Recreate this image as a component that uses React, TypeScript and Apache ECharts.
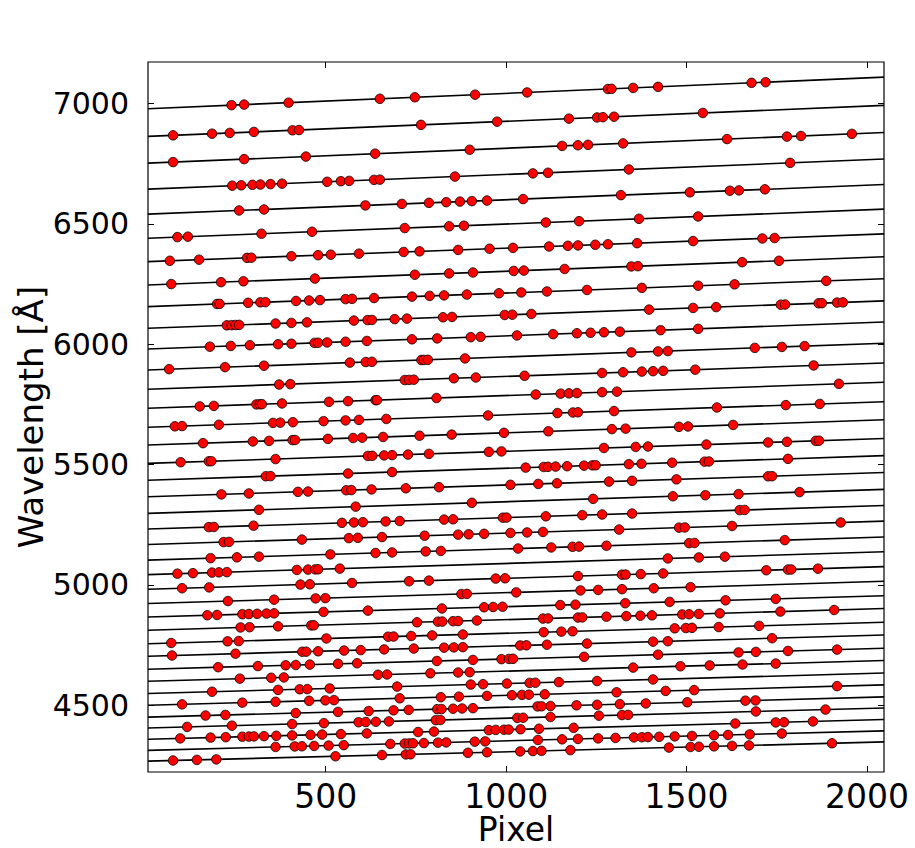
import React, { useEffect, useRef } from 'react';
import * as echarts from 'echarts';

// Axis extents (pixel index, wavelength in Angstrom)
const pixelRange = [7.5, 2047];
const wavelengthRange = [4223, 7172];
const xTicks = [500, 1000, 1500, 2000];
const yTicks = [4500, 5000, 5500, 6000, 6500, 7000];

// Wavelength solution of each order at the first and last pixel
const orderStart = [6978, 6863, 6752, 6644, 6540, 6440, 6343, 6246, 6156, 6066, 5980, 5893, 5813, 5734, 5655, 5581, 5505, 5435, 5366, 5297, 5232, 5168, 5103, 5043, 4982, 4923, 4867, 4812, 4756, 4704, 4650, 4600, 4549, 4500, 4451, 4406, 4359, 4313, 4268];
const orderEnd = [7109, 6992, 6879, 6769, 6663, 6561, 6458, 6363, 6272, 6180, 6092, 6004, 5922, 5842, 5761, 5686, 5608, 5537, 5467, 5397, 5330, 5265, 5199, 5138, 5076, 5015, 4955, 4902, 4845, 4792, 4737, 4686, 4634, 4585, 4535, 4489, 4441, 4394, 4348];

// Pixel positions of identified arc lines, per order
const orderLines: number[][] = [
  [239, 274, 397, 650, 747, 914, 1058, 1282, 1292, 1352, 1421, 1680, 1719],
  [77, 185, 234, 301, 408, 426, 764, 975, 1174, 1252, 1268, 1299, 1545],
  [77, 274, 445, 637, 899, 1155, 1199, 1227, 1324, 1612, 1778, 1817, 1958],
  [241, 266, 297, 319, 347, 379, 504, 542, 565, 634, 650, 858, 1074, 1116, 1340, 1787],
  [260, 329, 610, 711, 786, 834, 872, 905, 947, 1047, 1318, 1509, 1620, 1645, 1717],
  [89, 118, 322, 462, 719, 842, 883, 1110, 1202, 1368, 1532],
  [68, 149, 282, 294, 405, 479, 514, 592, 716, 760, 867, 954, 1019, 1119, 1171, 1199, 1247, 1282, 1363, 1518, 1710, 1744],
  [72, 210, 272, 470, 747, 842, 908, 1021, 1049, 1162, 1347, 1365, 1654, 1756],
  [199, 206, 285, 319, 333, 418, 454, 484, 555, 573, 634, 739, 788, 828, 891, 980, 1042, 1113, 1224, 1376, 1532, 1633, 1887],
  [226, 239, 250, 260, 361, 405, 448, 578, 616, 628, 691, 725, 825, 850, 996, 1017, 1070, 1396, 1518, 1582, 1761, 1773, 1866, 1875, 1917, 1933],
  [179, 237, 290, 368, 405, 469, 479, 504, 555, 614, 739, 809, 902, 929, 1030, 1130, 1196, 1234, 1271, 1315, 1428, 1532],
  [66, 221, 329, 567, 611, 628, 765, 772, 783, 886, 1347, 1421, 1448, 1689, 1764, 1827],
  [371, 402, 719, 731, 744, 855, 916, 1051, 1266, 1324, 1376, 1407, 1435, 1524, 1852],
  [151, 190, 308, 317, 323, 379, 509, 562, 638, 642, 807, 1082, 1151, 1174, 1196, 1266, 1307, 1922],
  [82, 102, 204, 354, 374, 409, 494, 555, 592, 668, 950, 1142, 1185, 1199, 1299, 1584, 1775, 1869],
  [160, 298, 343, 408, 415, 506, 576, 601, 659, 760, 849, 994, 1117, 1293, 1331, 1479, 1504, 1629],
  [98, 176, 183, 361, 617, 629, 662, 684, 728, 786, 952, 987, 1271, 1359, 1393, 1555, 1726, 1778, 1858, 1867],
  [334, 347, 562, 684, 1054, 1104, 1116, 1137, 1169, 1216, 1239, 1248, 1340, 1375, 1460, 1550, 1562, 1781],
  [211, 287, 423, 451, 557, 571, 627, 722, 814, 1012, 1089, 1141, 1285, 1349, 1472, 1726, 1737],
  [315, 583, 905, 1241, 1462, 1552, 1644, 1813],
  [176, 190, 300, 545, 578, 603, 666, 705, 828, 853, 991, 1001, 1110, 1211, 1266, 1349, 1647, 1661],
  [217, 232, 434, 564, 589, 656, 774, 867, 896, 939, 1012, 1058, 1102, 1313, 1479, 1495, 1626, 1927],
  [181, 254, 315, 513, 638, 684, 777, 819, 1033, 1125, 1184, 1202, 1278, 1507, 1522, 1772],
  [89, 132, 185, 204, 226, 420, 451, 471, 479, 539, 1448, 1534, 1606],
  [102, 177, 430, 456, 573, 731, 786, 971, 997, 1199, 1321, 1331, 1373, 1435, 1721, 1781, 1790, 1864],
  [229, 357, 472, 499, 876, 891, 1028, 1206, 1255, 1321, 1409, 1511],
  [172, 199, 269, 287, 310, 336, 357, 494, 617, 822, 939, 964, 990, 1150, 1192, 1330, 1453, 1608, 1747],
  [264, 289, 368, 460, 467, 753, 811, 823, 853, 867, 919, 1102, 1116, 1199, 1211, 1278, 1333, 1372, 1404, 1488, 1507, 1534, 1592, 1760, 1909],
  [72, 228, 259, 502, 673, 688, 737, 795, 880, 1104, 1153, 1184, 1467, 1498, 1515, 1589, 1701],
  [74, 250, 435, 446, 479, 551, 597, 662, 744, 828, 855, 880, 1039, 1056, 1113, 1224, 1407, 1448, 1737],
  [202, 312, 389, 417, 456, 534, 587, 808, 908, 987, 1008, 1019, 1216, 1421, 1644, 1692, 1781, 1917],
  [262, 349, 384, 645, 670, 790, 867, 899, 1352, 1483, 1564, 1655, 1747],
  [185, 368, 428, 449, 511, 698, 902, 936, 1002, 1065, 1081, 1146, 1252, 1407],
  [102, 269, 361, 454, 499, 523, 705, 819, 869, 947, 1016, 1044, 1063, 1107, 1306, 1442, 1521, 1917],
  [167, 222, 417, 534, 619, 688, 730, 809, 821, 853, 878, 908, 1087, 1098, 1123, 1195, 1252, 1315, 1387, 1502, 1663, 1691],
  [116, 240, 407, 495, 591, 611, 639, 675, 805, 818, 1031, 1047, 1123, 1257, 1321, 1338, 1692, 1885],
  [97, 181, 223, 269, 287, 301, 329, 363, 407, 458, 490, 542, 614, 756, 800, 952, 971, 994, 1007, 1040, 1091, 1187, 1635, 1747, 1770, 1850],
  [361, 414, 434, 468, 508, 550, 679, 719, 731, 742, 772, 811, 834, 913, 942, 1088, 1155, 1199, 1255, 1303, 1354, 1376, 1393, 1424, 1467, 1515, 1576, 1615, 1675, 1764],
  [77, 143, 197, 527, 656, 722, 735, 894, 947, 1039, 1074, 1098, 1178, 1451, 1511, 1534, 1576, 1626, 1673, 1903],
];

const FONT = 'DejaVu Sans';

export default function App() {
  const ref = useRef<HTMLDivElement>(null);

  useEffect(() => {
    if (!ref.current) return;
    const chart = echarts.init(ref.current, null, { renderer: 'svg' });

    const p0 = pixelRange[0];
    const p1 = pixelRange[1];
    const solution = (i: number, p: number) =>
      orderStart[i] + ((orderEnd[i] - orderStart[i]) * (p - p0)) / (p1 - p0);

    const lineSeries = orderStart.map((_, i) => ({
      type: 'line',
      data: [
        [p0, orderStart[i]],
        [p1, orderEnd[i]],
      ],
      symbol: 'none',
      silent: true,
      lineStyle: { color: '#000', width: 1.6 },
      z: 2,
    }));

    const points: number[][] = [];
    orderLines.forEach((arr, i) => {
      arr.forEach((p) => points.push([p, solution(i, p)]));
    });

    const plain = (v: number) => String(Math.round(v));

    const baseX = {
      type: 'value',
      min: pixelRange[0],
      max: pixelRange[1],
      splitLine: { show: false },
      axisLine: { show: false },
    };
    const baseY = {
      type: 'value',
      min: wavelengthRange[0],
      max: wavelengthRange[1],
      splitLine: { show: false },
      axisLine: { show: false },
    };

    chart.setOption({
      animation: false,
      backgroundColor: '#fff',
      grid: {
        left: 148,
        top: 62,
        width: 736,
        height: 710,
        show: true,
        borderColor: '#000',
        borderWidth: 1.2,
        containLabel: false,
        outerBoundsMode: 'none',
      },
      xAxis: [
        {
          ...baseX,
          position: 'bottom',
          name: 'Pixel',
          nameLocation: 'middle',
          nameGap: 41,
          nameMoveOverlap: false,
          nameTextStyle: { fontFamily: FONT, fontSize: 33, color: '#000', verticalAlign: 'top', lineHeight: 33 },
          axisTick: { show: true, inside: true, length: 6, lineStyle: { color: '#000', width: 1 }, customValues: xTicks },
          axisLabel: { show: true, fontFamily: FONT, fontSize: 33, lineHeight: 27, color: '#000', margin: 11, customValues: xTicks, formatter: plain },
        },
        {
          ...baseX,
          position: 'top',
          axisTick: { show: true, inside: true, length: 6, lineStyle: { color: '#000', width: 1 }, customValues: xTicks },
          axisLabel: { show: false },
        },
      ],
      yAxis: [
        {
          ...baseY,
          position: 'left',
          name: 'Wavelength [Å]',
          nameLocation: 'middle',
          nameGap: 100,
          nameRotate: 90,
          nameMoveOverlap: false,
          nameTextStyle: { fontFamily: FONT, fontSize: 34, color: '#000', verticalAlign: 'bottom' },
          axisTick: { show: true, inside: true, length: 6, lineStyle: { color: '#000', width: 1 }, customValues: yTicks },
          axisLabel: { show: true, fontFamily: FONT, fontSize: 30, color: '#000', margin: 19, customValues: yTicks, formatter: plain },
        },
        {
          ...baseY,
          position: 'right',
          axisTick: { show: true, inside: true, length: 6, lineStyle: { color: '#000', width: 1 }, customValues: yTicks },
          axisLabel: { show: false },
        },
      ],
      series: [
        ...lineSeries,
        {
          type: 'scatter',
          data: points,
          symbol: 'circle',
          symbolSize: 9.5,
          itemStyle: { color: '#ff0000', borderColor: '#000', borderWidth: 0.8, opacity: 1 },
          z: 3,
          silent: true,
        },
      ],
    });

    return () => chart.dispose();
  }, []);

  return (
    <div
      ref={ref}
      style={{ position: 'fixed', left: 0, top: 0, width: 915, height: 848, background: '#fff' }}
    />
  );
}
